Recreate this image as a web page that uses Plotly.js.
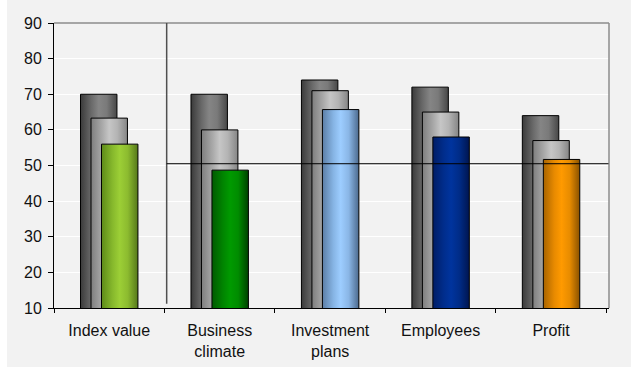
<!DOCTYPE html>
<html>
<head>
<meta charset="utf-8">
<script src="https://cdn.plot.ly/plotly-3.0.1.min.js"></script>
<style>
  html, body { margin: 0; padding: 0; background: #ffffff; }
  #chart { position: absolute; left: 7px; top: 0px; width: 624px; height: 367px; }
</style>
</head>
<body>
<div id="chart"></div>
<script>
// ---- data ----
var categories = ['Index value', 'Business<br>climate', 'Investment<br>plans', 'Employees', 'Profit'];
var seriesPrev2 = [70, 70, 74, 72, 64];
var seriesPrev1 = [63.3, 60, 71, 65, 57];
var seriesCurrent = [56, 48.7, 65.7, 58, 51.7];
var referenceValue = 50.5;          // horizontal reference line level
var separatorPosition = 0.52;       // category-axis position of the vertical separator
var referenceEnd = 4.52;            // category-axis end of the reference line
var yTicks = [10, 20, 30, 40, 50, 60, 70, 80, 90];

// ---- styles ----
var barWidth = 0.33;
var currentColors = ['#99cc33', '#009900', '#99ccff', '#003399', '#ff9900'];
var gradients = {
  gDark: ['#3a3a3a', '#6a6a6a', '#858585', '#7a7a7a', '#474747'],
  gLight: ['#7e7e7e', '#a8a8a8', '#c6c6c6', '#b4b4b4', '#858585'],
  g0: ['#5d8a18', '#86b82c', '#9ccf36', '#8cbb2f', '#55781a'],
  g1: ['#005a00', '#008400', '#009a00', '#008c00', '#004200'],
  g2: ['#5c7ea6', '#86b4e4', '#9dcdff', '#8ab6e6', '#4c6a8e'],
  g3: ['#001d66', '#002d8c', '#00349e', '#002c88', '#001550'],
  g4: ['#a86400', '#e88a00', '#ff9a00', '#e88c00', '#8a5200']
};

var outline = {color: '#000000', width: 1};
var traces = [
  {type: 'bar', x: categories, y: seriesPrev2, width: barWidth, offset: -0.26,
   marker: {color: '#6a6a6a', line: outline}, hoverinfo: 'skip', showlegend: false},
  {type: 'bar', x: categories, y: seriesPrev1, width: barWidth, offset: -0.165,
   marker: {color: '#b0b0b0', line: outline}, hoverinfo: 'skip', showlegend: false},
  {type: 'bar', x: categories, y: seriesCurrent, width: barWidth, offset: -0.07,
   marker: {color: currentColors, line: outline}, hoverinfo: 'skip', showlegend: false}
];

var font = {family: '"Liberation Sans", Arial, sans-serif', size: 16, color: '#111111'};

var layout = {
  width: 624, height: 367,
  margin: {l: 47, r: 22, t: 23, b: 59},
  paper_bgcolor: '#f2f2f2',
  plot_bgcolor: '#f2f2f2',
  barmode: 'overlay',
  font: font,
  showlegend: false,
  xaxis: {
    type: 'category',
    tickson: 'boundaries',
    ticks: 'outside', ticklen: 4, tickcolor: '#000', tickwidth: 1,
    showline: true, linecolor: '#000', linewidth: 1,
    showgrid: false, zeroline: false,
    tickfont: font,
    ticklabelstandoff: 8,
    fixedrange: true
  },
  yaxis: {
    range: [10, 90],
    tickvals: yTicks,
    ticks: 'outside', ticklen: 5, tickcolor: '#000', tickwidth: 1,
    showline: true, linecolor: '#000', linewidth: 1,
    showgrid: true, gridcolor: '#ffffff', gridwidth: 1,
    zeroline: false,
    tickfont: font,
    ticklabelstandoff: 3,
    fixedrange: true
  },
  shapes: [
    {type: 'line', xref: 'paper', yref: 'paper', x0: 0, x1: 1, y0: 1, y1: 1,
     line: {color: '#8c8c8c', width: 1.5}},
    {type: 'line', xref: 'paper', yref: 'paper', x0: 1, x1: 1, y0: 0, y1: 1,
     line: {color: '#8c8c8c', width: 1.5}},
    {type: 'line', xref: 'x', yref: 'y', x0: separatorPosition, x1: separatorPosition, y0: 11.2, y1: 90,
     line: {color: '#505050', width: 1.5}},
    {type: 'line', xref: 'x', yref: 'y', x0: separatorPosition, x1: referenceEnd, y0: referenceValue, y1: referenceValue,
     line: {color: '#000000', width: 1}}
  ]
};

function addGradients(gd) {
  var svg = gd.querySelector('svg.main-svg');
  var defs = svg.querySelector('defs');
  var ns = 'http://www.w3.org/2000/svg';
  Object.keys(gradients).forEach(function (id) {
    var lg = document.createElementNS(ns, 'linearGradient');
    lg.setAttribute('id', id);
    lg.setAttribute('x1', '0'); lg.setAttribute('y1', '0');
    lg.setAttribute('x2', '1'); lg.setAttribute('y2', '0');
    var stops = gradients[id];
    var offs = [0, 0.3, 0.5, 0.72, 1];
    stops.forEach(function (c, i) {
      var s = document.createElementNS(ns, 'stop');
      s.setAttribute('offset', offs[i]);
      s.setAttribute('stop-color', c);
      lg.appendChild(s);
    });
    defs.appendChild(lg);
  });
  var traceGroups = gd.querySelectorAll('.barlayer .trace');
  traceGroups.forEach(function (tg, ti) {
    var paths = tg.querySelectorAll('.point path');
    paths.forEach(function (p, pi) {
      var id = ti === 0 ? 'gDark' : (ti === 1 ? 'gLight' : 'g' + pi);
      p.style.fill = 'url(#' + id + ')';
    });
  });
}

Plotly.newPlot('chart', traces, layout, {displayModeBar: false, staticPlot: true}).then(addGradients);
</script>
</body>
</html>
